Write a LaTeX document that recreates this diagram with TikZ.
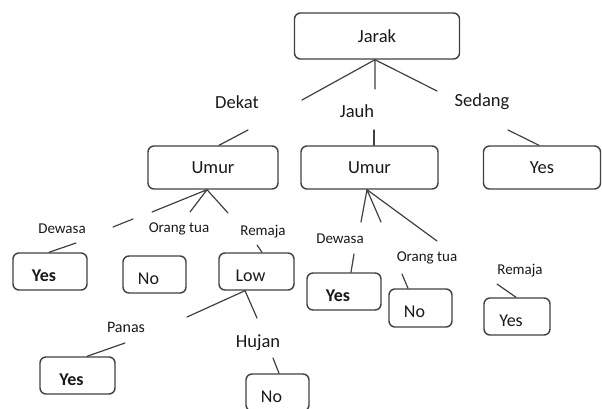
\documentclass[tikz,border=0pt]{standalone}
\usepackage{fontspec}
\setmainfont{Carlito}
\usetikzlibrary{positioning}

\begin{document}
\begin{tikzpicture}[line cap=round,line join=round,x=1pt,y=-1pt,
  box/.style={draw=uuuuuu,line width=1.4pt,rounded corners=6pt,inner sep=0pt,text=qqqqqq,font=\fontsize{18.5}{20}\selectfont},
  leaf/.style={box,minimum height=37pt},
  intext/.style={xshift=-6pt,yshift=-4pt,text=qqqqqq,font=\fontsize{18}{20}\selectfont},
  big/.style={text=qqqqqq,font=\fontsize{18.5}{20}\selectfont},
  small/.style={text=qqqqqq,font=\fontsize{15}{16}\selectfont},
  edge/.style={line width=1.2pt,color=uuuuuu}]
\definecolor{uuuuuu}{rgb}{0.25,0.25,0.25}
\definecolor{qqqqqq}{rgb}{0.1,0.1,0.1}
\useasboundingbox (0,0) rectangle (602,409);
\clip (0,0) rectangle (602,409);
\node[box,minimum width=165pt,minimum height=46pt] (jarak) at (377,36) {Jarak};
\node[box,minimum width=130pt,minimum height=43pt] (umurA) at (213,167.5) {Umur};
\node[box,minimum width=137pt,minimum height=43pt] (umurB) at (369.5,167.5) {Umur};
\node[box,minimum width=117pt,minimum height=43pt] (yesT) at (542,167.5) {Yes};
\node[leaf,minimum width=74pt,label={[intext]center:\textbf{Yes}}] (yesL) at (50,271.5) {};
\node[leaf,minimum width=63pt,label={[intext]center:No}] (noL) at (154.5,274.5) {};
\node[leaf,minimum width=75pt,label={[intext]center:Low}] (low) at (256.5,271.5) {};
\node[leaf,minimum width=75pt,label={[intext]center:\textbf{Yes}}] (yesP) at (77.5,375.5) {};
\node[leaf,minimum width=63pt,label={[intext]center:No}] (noH) at (277.5,392.5) {};
\node[leaf,minimum width=74pt,label={[intext]center:\textbf{Yes}}] (yesR) at (344,291.5) {};
\node[leaf,minimum width=63pt,minimum height=38pt,label={[intext]center:No}] (noR) at (420.5,308) {};
\node[leaf,minimum width=66pt,label={[intext]center:Yes}] (yesS) at (517,316.5) {};
\node[big] (dekat) at (237,102) {Dekat};
\node[big] (jauh) at (357,111) {Jauh};
\node[big] (sedang) at (482,102) {Sedang};
\node[small] (dewasaA) at (62,229) {Dewasa};
\node[small] (orangA) at (179,229) {Orang tua};
\node[small] (remajaA) at (263,232) {Remaja};
\node[small,font=\fontsize{16}{17}\selectfont] (panas) at (126,327) {Panas};
\node[big] (hujan) at (258,343) {Hujan};
\node[small] (dewasaB) at (340,239) {Dewasa};
\node[small] (orangB) at (427,258) {Orang tua};
\node[small] (remajaB) at (520,271) {Remaja};
\coordinate (c1) at (302,100);
\coordinate (c2) at (375,89);
\coordinate (c3) at (437,91);
\coordinate (d1) at (248,130);
\coordinate (j1) at (374,130);
\coordinate (s1) at (508,130);
\coordinate (a1) at (152,212);
\coordinate (a2) at (133,219);
\coordinate (a3) at (113,227);
\coordinate (a4) at (190,212);
\coordinate (a5) at (228,213);
\coordinate (a6) at (76,243);
\coordinate (a7) at (257,245);
\coordinate (l1) at (187,317);
\coordinate (l2) at (257,318);
\coordinate (p1) at (125,343);
\coordinate (h1) at (273,358);
\coordinate (b1) at (361,222);
\coordinate (b2) at (381,222);
\coordinate (b3) at (437,241);
\coordinate (b4) at (354,254);
\coordinate (b5) at (402,274);
\coordinate (b6) at (497,284);
\draw[edge] (c1) -- ([xshift=-2pt]jarak.south) -- (c2);
\draw[edge] ([xshift=-2pt]jarak.south) -- (c3);
\draw[edge] (d1) -- ([xshift=6pt]umurA.north);
\draw[edge] (j1) -- ([xshift=4.5pt]umurB.north);
\draw[edge] (s1) -- ([xshift=-3pt]yesT.north);
\draw[edge] (a1) -- ([xshift=-6pt]umurA.south) -- (a4);
\draw[edge] ([xshift=-6pt]umurA.south) -- (a5);
\draw[edge] (a2) -- (a3);
\draw[edge] (a6) -- ([xshift=-1pt]yesL.north);
\draw[edge] (a7) -- ([xshift=5.5pt]low.north);
\draw[edge] (l1) -- ([xshift=-11.5pt]low.south) -- (l2);
\draw[edge] (p1) -- ([xshift=9.5pt]yesP.north);
\draw[edge] (h1) -- ([xshift=1.5pt]noH.north);
\draw[edge] (b1) -- ([xshift=-2.5pt]umurB.south) -- (b2);
\draw[edge] ([xshift=-2.5pt]umurB.south) -- (b3);
\draw[edge] (b4) -- ([xshift=7pt]yesR.north);
\draw[edge] (b5) -- ([xshift=-12.5pt]noR.north);
\draw[edge] (b6) -- ([xshift=-1pt]yesS.north);
\end{tikzpicture}
\end{document}
